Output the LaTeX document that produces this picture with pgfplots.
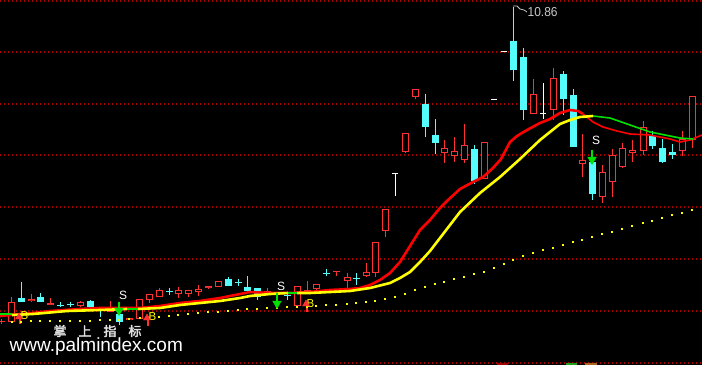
\documentclass[border=0pt]{standalone}
\usepackage{pgfplots}
\pgfplotsset{compat=1.18}
\usepackage{pgfplotstable}
\usepackage{fontspec}
\setmainfont{Liberation Sans}
\newfontfamily\cjk[FakeBold=2.5]{Noto Sans CJK SC}
\definecolor{kred}{RGB}{255,50,50}
\definecolor{kcyan}{RGB}{84,252,252}
\definecolor{gridred}{RGB}{175,0,0}
\definecolor{malred}{RGB}{255,0,0}
\definecolor{mayel}{RGB}{255,255,0}
\definecolor{magrn}{RGB}{0,225,0}
\definecolor{lbl}{RGB}{200,200,200}
\definecolor{icred}{RGB}{160,0,0}
\definecolor{icgrn}{RGB}{30,160,30}
\definecolor{icbrn}{RGB}{170,100,30}

% candles in screen units: x, body top, body bottom, high, low
\pgfplotstableread{
x top bot hi lo
1.5 320.5 321.5 319 324
11.5 302 322 297 322
31 298.5 300.5 294 302
50 302.5 304.5 298 305
80 302 306 301 307
110 308 312 301 312
129 318 320 318 320
139.5 299 319 299 319
149 294 300 294 303
159 290 297 288 297
178 290 294 287 298
188 290 294 290 297
198 289 292 285 296
208 285.5 287.5 285.5 289
218 281 287 281 287
267 290.5 291.5 288 293
297 286 306 286 306
307 289.5 290.5 281 293
316 284 289 284 292
336 270.5 272 270.5 276
347 277 281 273 290
366 272 276 263 277
375 242 273 242 277
385 209 231 209 237
405 133 152 133 153
415 89 97 89 99
444 148 153 140 163
454 151 156 137 162
464 145 160 124 163
484 142 179 142 179
533 94 114 79 114
553 78 110 68 120
582 160 164 134 177
602 172 197 165 203
612 155 182 149 197
622 148 167 143 168
632 150 152.5 140 162
643 127 151 121 155
682 139 151 131 156
692 96 140 96 148
}\redtab

\pgfplotstableread{
x top bot hi lo
21 298 302 282 302
40 297 302 293 302
60 304.5 305.5 302 307
70 304 305 301.5 307
90 301 307 300 307
100 309.5 310.5 308 317
119 314 322 312 325
169 291 292 288 294.5
228 279 286 277 286
238 281.5 282.5 279 286
247 287 291 276 291
257 288 297 288 300
287 294.5 295.5 292 300
326 272.5 273.5 269 276
356 277.5 278.5 273 285
425 104 127 94 137
435 135 143 119 154
474 149 181 145 184
513 41 70 7 81
523 57 110 48 120
563 74 99 71 115
573 95 147 89 147
592 162 194 162 200
652 136 146 131 149
662 148 162 139 163
672 152 155 144 159
}\cyantab

\pgfplotstableread{
x top bot hi lo
395 173 174 173 196
494 98.5 99.5 98.5 99.5
504 51.5 52.5 51.5 52.5
543 112.5 113.5 83 119
}\whitetab

\pgfplotstableread{
x y
11.5 322
21 321.5
31 321
40 321
50 321
60 321
70 321
80 320.5
90 320.5
100 320
110 320
119 319.5
129 318.5
139.5 318
149 317.5
159 316.5
169 316
178 314.5
188 313.5
198 313
208 312
218 311.5
228 311
238 310
247 309
257 308.5
267 308
277 307.5
287 307
297 307
307 306.5
316 306
326 305
336 305
347 304
356 303
366 302
375 301
385 299
395 297
405 294
415 290
425 287
435 284
444 282
454 279
464 276.5
474 274
484 272
494 268
504 264
513 260
523 256
533 253
543 250
553 247.5
563 245
573 242
582 239.5
592 237
602 234
612 231.5
622 229
632 226
643 223
652 220.5
662 218
672 215
682 212.5
692 210
}\dottab

\begin{document}
\begin{tikzpicture}
\begin{axis}[scale only axis, width=702bp, height=365bp,
  xmin=0, xmax=702, ymin=0, ymax=365, y dir=reverse,
  axis lines=none, ticks=none]
\fill[black] (rel axis cs:0,0) rectangle (rel axis cs:1,1);
\pgfplotsinvokeforeach{1,52,104,155,207,259,311,363}{
  \draw[gridred, line width=1.2bp, dash pattern=on 1.2bp off 2.8bp] (axis cs:0,#1) -- (axis cs:702,#1);
}
% long MA dots
\addplot[only marks, mark=square*, mark size=0.55bp, mayel, mark options={draw=none, fill=mayel}] table[x=x,y=y]{\dottab};

% wicks
\addplot[kred, line width=1bp, mark=none, quiver={u=0, v=\thisrow{lo}-\thisrow{hi}}] table[x=x, y=hi]{\redtab};
\addplot[kcyan, line width=1bp, mark=none, quiver={u=0, v=\thisrow{lo}-\thisrow{hi}}] table[x=x, y=hi]{\cyantab};
\addplot[white, line width=1bp, mark=none, quiver={u=0, v=\thisrow{lo}-\thisrow{hi}}] table[x=x, y=hi]{\whitetab};
% bodies
\addplot[kred, line width=7bp, mark=none, quiver={u=0, v=\thisrow{bot}-\thisrow{top}}] table[x=x, y=top]{\redtab};
\addplot[black, line width=5bp, mark=none, quiver={u=0, v={max(\thisrow{bot}-\thisrow{top}-2,0.01)}}] table[x=x, y expr=\thisrow{top}+1]{\redtab};
\addplot[kcyan, line width=7bp, mark=none, quiver={u=0, v=\thisrow{bot}-\thisrow{top}}] table[x=x, y=top]{\cyantab};
\addplot[white, line width=6bp, mark=none, quiver={u=0, v=\thisrow{bot}-\thisrow{top}}] table[x=x, y=top]{\whitetab};

% short MA (red)
\addplot[malred, line width=2.6bp, line join=round] coordinates {(0,316)(10,315)(20,314)(33,313)(50,311)(65,310)(80,309)(100,308)(120,308)(140,308)(160,306)(180,303)(200,301)(220,298)(240,294)(250,292)(270,293)(290,293)(310,292)(330,290)(350,289)(360,288)(370,285)(380,280)(390,273)(400,262)(410,246)(420,230)(430,220)(440,208)(448,200)(460,189)(473,182)(483,177)(493,168)(501,159)(510,142)(517,136)(527,130)(540,123)(550,119)(560,113)(570,110)(578,111)(583,114)};
\addplot[malred, line width=1.6bp, line join=round] coordinates {(583,114)(593,122)(603,127)(617,131)(630,134)(650,135)(670,139)(680,142)(690,140)(702,135)};
% long MA (yellow / green)
\addplot[magrn, line width=1.5bp] coordinates {(0,314)(12,314)};
\addplot[mayel, line width=2.6bp, line join=round] coordinates {(12,315)(33,314)(67,311)(100,310)(127,309)};
\addplot[magrn, line width=1.5bp] coordinates {(127,309)(138,309)};
\addplot[mayel, line width=2.6bp, line join=round] coordinates {(138,309)(160,308)(180,305)(200,303)(220,301)(240,298)(250,296)(270,294)(288,293)};
\addplot[magrn, line width=1.5bp] coordinates {(288,293)(297,293)};
\addplot[mayel, line width=2.6bp, line join=round] coordinates {(297,293)(310,293)(330,292)(350,291)(370,288)(390,283)(400,278)(410,272)(420,262)(430,251)(440,238)(450,225)(460,212)(480,193)(500,177)(520,159)(540,140)(560,124)(570,120)(580,117)(593,116)};
\addplot[magrn, line width=1.6bp, line join=round] coordinates {(593,116)(610,118)(630,125)(650,132)(670,136)(680,138)(693,139)};

% sell arrows
\addplot[magrn, line width=2bp] coordinates {(119,302)(119,309)};
\addplot[magrn, line width=2bp] coordinates {(277,293)(277,302)};
\addplot[magrn, line width=2bp] coordinates {(592,150)(592,158)};
\addplot[only marks, mark=triangle*, mark size=5bp, magrn, mark options={rotate=180, draw=magrn, fill=magrn}] coordinates {(119,310.5)(277,303.5)(592,159.5)};
% buy arrows
\addplot[kred, line width=2bp] coordinates {(20,315)(20,324)};
\addplot[kred, line width=2bp] coordinates {(148,316)(148,326)};
\addplot[kred, line width=2bp] coordinates {(307,302)(307,312)};
\addplot[only marks, mark=triangle*, mark size=4bp, kred, mark options={draw=kred, fill=kred}] coordinates {(19,317)(147,318)(306,304)};

% labels
\node[white, font=\fontsize{12bp}{12bp}\selectfont] at (axis cs:123,295) {S};
\node[white, font=\fontsize{12bp}{12bp}\selectfont] at (axis cs:281,286.5) {S};
\node[white, font=\fontsize{12bp}{12bp}\selectfont] at (axis cs:596,140.5) {S};
\node[mayel, font=\fontsize{11.5bp}{12bp}\selectfont] at (axis cs:24.5,315.5) {B};
\node[mayel, font=\fontsize{11.5bp}{12bp}\selectfont] at (axis cs:152.5,316.5) {B};
\node[mayel, font=\fontsize{11.5bp}{12bp}\selectfont] at (axis cs:310.5,303.5) {B};

\draw[lbl, line width=0.8bp] (axis cs:513,6) -- (axis cs:517,6) -- (axis cs:520,9) -- (axis cs:524,10) -- (axis cs:527,12);
\node[lbl, anchor=west, inner sep=0pt, font=\fontsize{13bp}{13bp}\selectfont, xscale=0.92] at (axis cs:527.5,12.5) {10.86};

\node[white!88!black, font=\cjk\fontsize{13bp}{13bp}\selectfont] at (axis cs:60,331) {掌};
\node[white!88!black, font=\cjk\fontsize{13bp}{13bp}\selectfont] at (axis cs:85,331) {上};
\node[white!88!black, font=\cjk\fontsize{13bp}{13bp}\selectfont] at (axis cs:110,331) {指};
\node[white!88!black, font=\cjk\fontsize{13bp}{13bp}\selectfont] at (axis cs:135,331) {标};
\node[white, anchor=base west, inner sep=0pt, font=\fontsize{19bp}{19bp}\selectfont] at (axis cs:9.5,351.5) {www.palmindex.com};

% partially visible icons at the bottom edge
\fill[icred] (axis cs:497,362.5) rectangle (axis cs:508,365);
\fill[icgrn] (axis cs:566,362.5) rectangle (axis cs:577,365);
\fill[icbrn] (axis cs:585,362.5) rectangle (axis cs:597,365);
\end{axis}
\end{tikzpicture}
\end{document}
